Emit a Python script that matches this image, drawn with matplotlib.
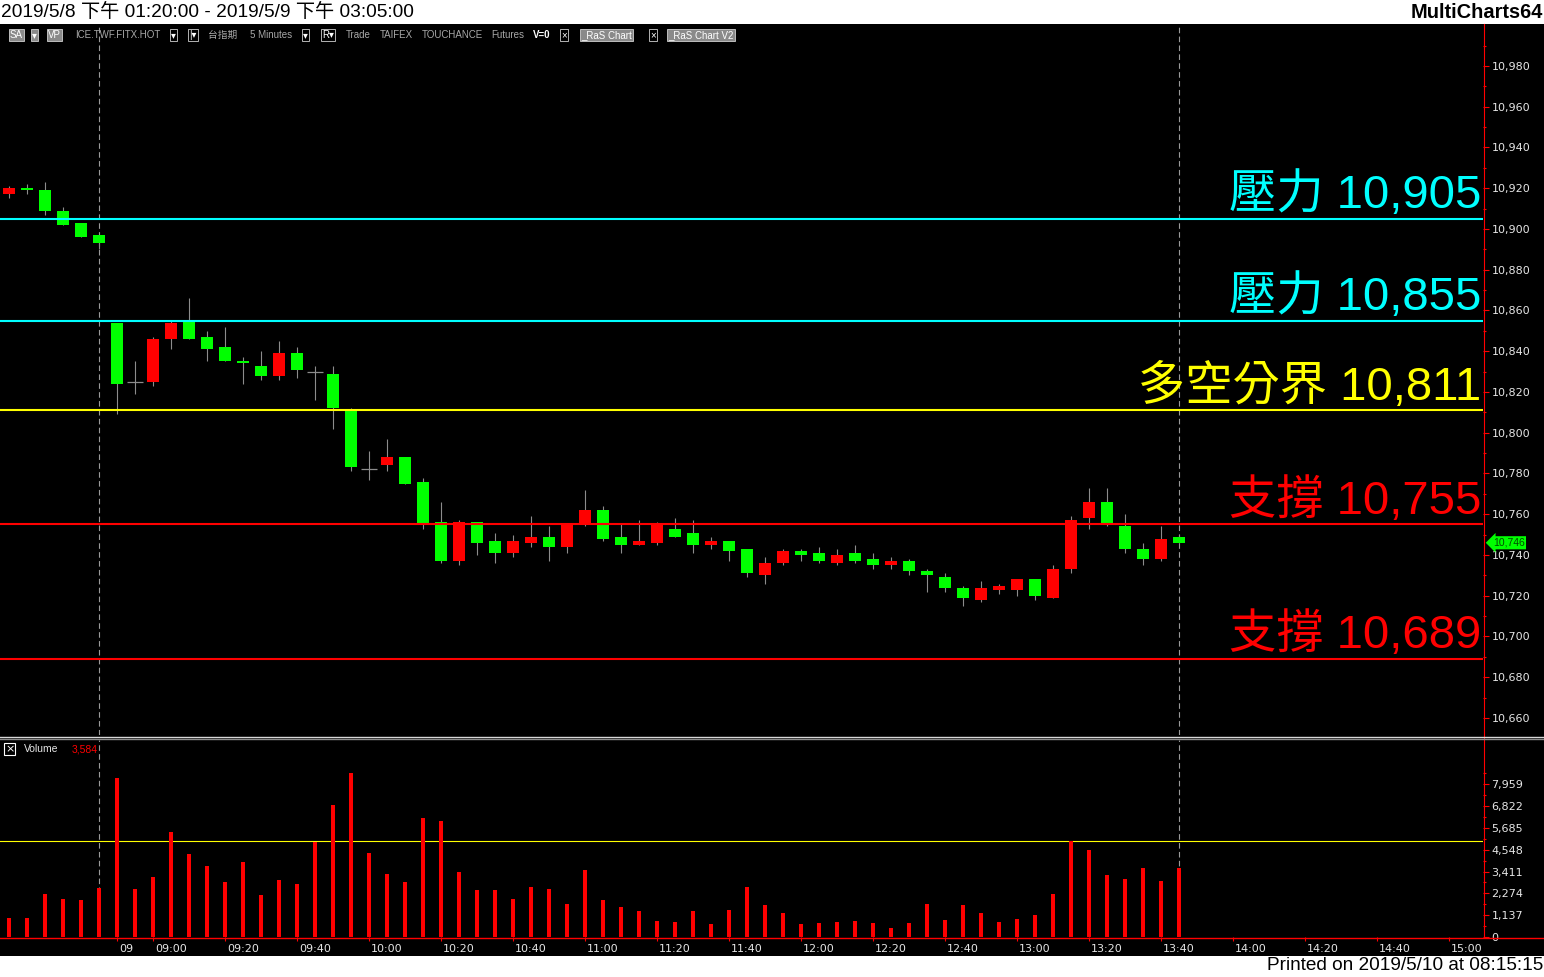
import numpy as np
import matplotlib
matplotlib.use("Agg")
import matplotlib.pyplot as plt
import matplotlib.transforms as mtransforms
from matplotlib.patches import Rectangle
from matplotlib.lines import Line2D
from matplotlib.ticker import FixedLocator, FuncFormatter

W, H = 1544, 977

# 5-minute bars: last 6 bars of the 5/8 night session, then the 5/9 day session
opens = [10917, 10920, 10919, 10909, 10903, 10897,
         10854, 10825, 10825, 10846, 10855, 10847, 10842, 10835, 10833, 10828,
         10839, 10830, 10829, 10811, 10782, 10784, 10788, 10776, 10756, 10737,
         10756, 10747, 10741, 10746, 10749, 10744, 10755, 10762, 10749, 10745,
         10746, 10753, 10751, 10745, 10747, 10743, 10730, 10736, 10742, 10741,
         10736, 10741, 10738, 10735, 10737, 10732, 10729, 10724, 10718, 10723,
         10723, 10728, 10719, 10733, 10758, 10766, 10754, 10743, 10738, 10749]
highs = [10921, 10922, 10923, 10911, 10903, 10897,
         10854, 10835, 10847, 10855, 10866, 10850, 10852, 10837, 10840, 10845,
         10842, 10833, 10833, 10812, 10791, 10797, 10788, 10778, 10766, 10757,
         10756, 10751, 10750, 10759, 10754, 10755, 10772, 10764, 10755, 10757,
         10756, 10758, 10757, 10749, 10747, 10743, 10739, 10743, 10743, 10744,
         10743, 10745, 10741, 10739, 10738, 10733, 10731, 10725, 10727, 10726,
         10728, 10728, 10735, 10759, 10773, 10773, 10760, 10746, 10754, 10750]
lows = [10915, 10917, 10907, 10902, 10896, 10890,
        10809, 10819, 10823, 10841, 10846, 10835, 10835, 10824, 10826, 10826,
        10827, 10816, 10802, 10781, 10777, 10781, 10775, 10753, 10736, 10735,
        10740, 10736, 10739, 10744, 10737, 10741, 10754, 10747, 10741, 10745,
        10745, 10749, 10741, 10743, 10737, 10729, 10726, 10735, 10737, 10736,
        10735, 10736, 10733, 10733, 10730, 10722, 10722, 10715, 10717, 10721,
        10720, 10718, 10719, 10731, 10753, 10754, 10741, 10735, 10737, 10746]
closes = [10920, 10919, 10909, 10902, 10896, 10893,
          10824, 10825, 10846, 10854, 10846, 10841, 10835, 10834, 10828, 10839,
          10831, 10830, 10812, 10783, 10782, 10788, 10775, 10755, 10737, 10756,
          10746, 10741, 10747, 10749, 10744, 10755, 10762, 10748, 10745, 10747,
          10755, 10749, 10745, 10747, 10742, 10731, 10736, 10742, 10740, 10737,
          10740, 10737, 10735, 10737, 10732, 10730, 10724, 10719, 10724, 10725,
          10728, 10720, 10733, 10757, 10766, 10755, 10743, 10738, 10748, 10746]
volumes = [990, 990, 2240, 1980, 1930, 2540,
           8280, 2500, 3130, 5470, 4320, 3700, 2870, 3910, 2190, 2970,
           2760, 4950, 6880, 8540, 4380, 3280, 2870, 6200, 6040, 3400,
           2467, 2467, 2000, 2623, 2519, 1737, 3509, 1945, 1581, 1372,
           851, 799, 1372, 695, 1424, 2623, 1685, 1268, 695, 747,
           799, 851, 747, 486, 747, 1737, 903, 1685, 1268, 799,
           955, 1164, 2258, 5003, 4551, 3248, 3040, 3613, 2936, 3584]

level_prices = [10905, 10855, 10811, 10755, 10689]
level_names = ['壓力', '壓力', '多空分界', '支撐', '支撐']
level_colors = ['#00FFFF', '#00FFFF', '#FFFF00', '#FF0000', '#FF0000']

price_ticks = list(range(10660, 10981, 20))
vol_ticks = [0, 1137, 2274, 3411, 4548, 5685, 6822, 7959]
vol_ref = 5000
session_marks = [5, 65]

time_pos = [6, 8, 12, 16, 20, 24, 28, 32, 36, 40, 44, 48, 52, 56, 60, 64, 68, 72, 76, 80]
time_labels = ['09', '09:00', '09:20', '09:40', '10:00', '10:20', '10:40', '11:00',
               '11:20', '11:40', '12:00', '12:20', '12:40', '13:00', '13:20', '13:40',
               '14:00', '14:20', '14:40', '15:00']

MIXED = ['Liberation Sans', 'Noto Sans CJK TC', 'DejaVu Sans']
TXT = '#E6E6E6'


def fx(px):
    return px / W


def fy(py):
    return 1 - py / H


fig = plt.figure(figsize=(W / 100, H / 100), dpi=100, facecolor='white')
fig.add_artist(Rectangle((0, fy(956)), 1, fy(24) - fy(956), transform=fig.transFigure,
                         facecolor='black', edgecolor='none', zorder=0))

ax = fig.add_axes([0, fy(735), fx(1483), fy(24) - fy(735)])
axv = fig.add_axes([0, fy(937), fx(1483), fy(740) - fy(937)])
for a in (ax, axv):
    a.set_facecolor('none')
    for s in a.spines.values():
        s.set_visible(False)
    a.set_xlim(-0.5, 81.89)
    a.yaxis.tick_right()

# ---- price panel ----
x = np.arange(len(closes))
o, hi, lo, c = (np.array(v, dtype=float) for v in (opens, highs, lows, closes))
ax.vlines(x, lo, hi, color='#8C8C8C', lw=0.8, zorder=2)
body = np.maximum(np.abs(c - o), 1.3)
bottom = np.minimum(o, c)
up = c > o
down = c < o
flat = c == o
ax.bar(x[up], body[up], bottom=bottom[up], width=0.72, color='#FF0000', zorder=3)
ax.bar(x[down], body[down], bottom=bottom[down], width=0.72, color='#00FF00', zorder=3)
ax.hlines(c[flat], x[flat] - 0.42, x[flat] + 0.42, color='#8C8C8C', lw=0.9, zorder=3)

for p, name, col in zip(level_prices, level_names, level_colors):
    ax.axhline(p, color=col, lw=1.5, zorder=4)
    ax.annotate(f'{name} {p:,}', xy=(1, p), xycoords=('axes fraction', 'data'),
                xytext=(-1.5, 7.5), textcoords='offset points', ha='right', va='baseline',
                fontsize=34, color=col, family=MIXED, zorder=5)

for m in session_marks:
    ax.axvline(m, color='#9A9A9A', lw=0.8, dashes=(5, 3), zorder=1)
    axv.axvline(m, color='#9A9A9A', lw=0.8, dashes=(5, 3), zorder=1)

ax.set_ylim(10651.65, 11000.61)
ax.yaxis.set_major_locator(FixedLocator(price_ticks))
ax.yaxis.set_minor_locator(FixedLocator([t + 10 for t in price_ticks]))
ax.yaxis.set_major_formatter(FuncFormatter(lambda v, _: f'{int(v):,}'))
ax.tick_params(axis='y', which='major', colors='#FF0000', labelcolor=TXT, length=4,
               width=0.8, labelsize=8, pad=2)
ax.tick_params(axis='y', which='minor', colors='#FF0000', length=2.5, width=0.8)
ax.set_xticks([])

ax.annotate(f'{closes[-1]:,}', xy=(1, closes[-1]), xycoords=('axes fraction', 'data'),
            xytext=(7, 0), textcoords='offset points', ha='left', va='center',
            fontsize=7.5, color='#004a00', family='Liberation Sans',
            bbox=dict(boxstyle='larrow,pad=0.15', fc='#00FF00', ec='none'),
            annotation_clip=False, zorder=6)

# ---- volume panel ----
axv.bar(x, volumes, width=0.17, color='#FF0000', zorder=3)
axv.axhline(vol_ref, color='#FFFF00', lw=0.8, zorder=2)
axv.set_ylim(0, 197 * 52.1)
axv.yaxis.set_major_locator(FixedLocator(vol_ticks))
axv.yaxis.set_minor_locator(FixedLocator([t + 568.5 for t in vol_ticks]))
axv.yaxis.set_major_formatter(FuncFormatter(lambda v, _: f'{int(round(v)):,}'))
axv.tick_params(axis='y', which='major', colors='#FF0000', labelcolor=TXT, length=4,
                width=0.8, labelsize=8, pad=2)
axv.tick_params(axis='y', which='minor', colors='#FF0000', length=2.5, width=0.8)
axv.set_xticks(time_pos, time_labels)
axv.tick_params(axis='x', colors='#FF0000', labelcolor=TXT, length=3, width=0.8,
                labelsize=8, pad=2)
shift = mtransforms.ScaledTranslation(2 / 100, 0, fig.dpi_scale_trans)
for lab in axv.get_xticklabels():
    lab.set_horizontalalignment('left')
    lab.set_transform(lab.get_transform() + shift)

# axis frame lines
fig.add_artist(Line2D([fx(1483.5)] * 2, [fy(24), fy(937)], color='#FF0000', lw=0.8))
fig.add_artist(Line2D([0, 1], [fy(937.5)] * 2, color='#FF0000', lw=1.0))
fig.add_artist(Line2D([0, 1], [fy(737)] * 2, color='#D8D8D8', lw=1.0))
fig.add_artist(Line2D([0, 1], [fy(739)] * 2, color='#8A8A8A', lw=1.0))

# volume legend
fig.text(fx(5), fy(749), '×', color='white', fontsize=8, va='center', ha='left',
         bbox=dict(boxstyle='square,pad=0.1', fc='black', ec='white', lw=0.8))
fig.text(fx(24), fy(749), 'Volume', color=TXT, fontsize=7.5, va='center',
         family='Liberation Sans')
fig.text(fx(72), fy(749), f'{volumes[-1]:,}', color='#FF0000', fontsize=7.5,
         va='center', family='Liberation Sans')

# header / footer
fig.text(fx(1), fy(12), '2019/5/8 下午 01:20:00 - 2019/5/9 下午 03:05:00', color='black',
         fontsize=13.8, va='center', ha='left', family=MIXED)
fig.text(fx(1543), fy(12), 'MultiCharts64', color='black', fontsize=14.4,
         fontweight='bold', va='center', ha='right', family='Liberation Sans')
fig.text(fx(1543), fy(966), 'Printed on 2019/5/10 at 08:15:15', color='black',
         fontsize=13.7, va='center', ha='right', family='Liberation Sans')

# chart toolbar row
GREY = '#A8A8A8'
toolbar = [
    ('SA', 10, 'fill'), ('▾', 32, 'fill'), ('VP', 48, 'fill'),
    ('ICE.TWF.FITX.HOT', 75, 'plain'), ('▾', 171, 'box'), ('|▾', 189, 'box'),
    ('台指期', 208, 'plain'), ('5 Minutes', 250, 'plain'), ('▾', 303, 'box'),
    ('R▾', 322, 'box'), ('Trade', 346, 'plain'), ('TAIFEX', 380, 'plain'),
    ('TOUCHANCE', 422, 'plain'), ('Futures', 491, 'plain'), ('V=0', 533, 'bold'),
    ('×', 561, 'box'), ('_RaS Chart', 581, 'fill'), ('×', 650, 'box'),
    ('_RaS Chart V2', 668, 'fill'),
]
for label, px, style in toolbar:
    kw = dict(fontsize=7, va='center', ha='left', family=MIXED)
    if style == 'fill':
        fig.text(fx(px), fy(35), label, color='white',
                 bbox=dict(boxstyle='square,pad=0.12', fc='#8A8A8A', ec='#D0D0D0', lw=0.6), **kw)
    elif style == 'box':
        fig.text(fx(px), fy(35), label, color='white',
                 bbox=dict(boxstyle='square,pad=0.12', fc='black', ec='#D0D0D0', lw=0.6), **kw)
    elif style == 'bold':
        fig.text(fx(px), fy(35), label, color='white', fontweight='bold', **kw)
    else:
        fig.text(fx(px), fy(35), label, color=GREY, **kw)

fig.savefig('out.png', dpi=100, facecolor='white')
